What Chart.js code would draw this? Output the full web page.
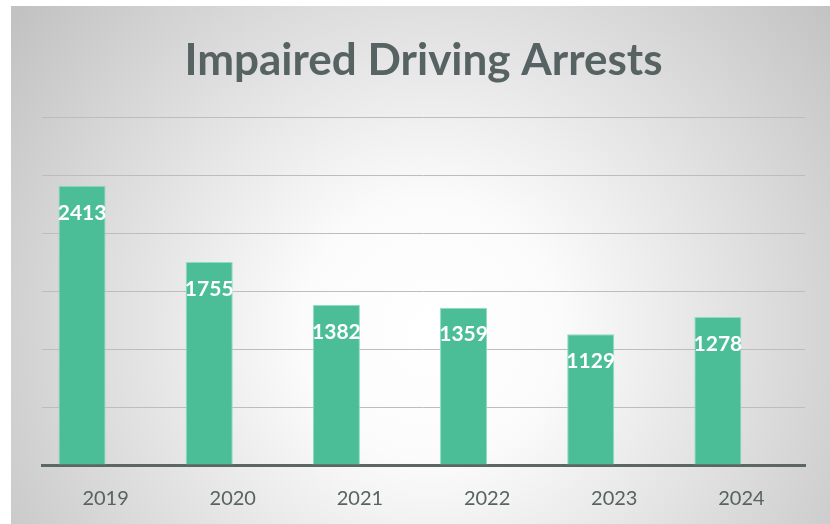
<!DOCTYPE html>
<html>
<head>
<meta charset="utf-8">
<script src="https://cdn.jsdelivr.net/npm/chart.js@4/dist/chart.umd.min.js"></script>
<style>
  html, body { margin: 0; padding: 0; background: #fff; overflow: hidden; }
  canvas { display: block; }
</style>
</head>
<body>
<canvas id="chartCanvas" width="830" height="524"></canvas>
<script>
const years = ['2019', '2020', '2021', '2022', '2023', '2024'];
const arrests = [2413, 1755, 1382, 1359, 1129, 1278];
// second series is empty, it only pushes the bars to the left of each slot
const emptySeries = [null, null, null, null, null, null];
const chartTitle = 'Impaired Driving Arrests';

const barColor = '#4bbe98';
const textGray = '#576362';

// grey radial backdrop with a thin white margin
const backdrop = {
  id: 'backdrop',
  beforeDraw(chart) {
    const ctx = chart.ctx;
    ctx.save();
    ctx.fillStyle = '#ffffff';
    ctx.fillRect(0, 0, chart.width, chart.height);
    const g = ctx.createRadialGradient(430, 330, 0, 430, 330, 520);
    g.addColorStop(0, '#ffffff');
    g.addColorStop(0.25, '#fbfbfb');
    g.addColorStop(1, '#c2c2c2');
    ctx.fillStyle = g;
    ctx.fillRect(11, 6, chart.width - 11, chart.height - 6);
    ctx.restore();
  }
};

// white value labels just inside the top of each bar
const valueLabels = {
  id: 'valueLabels',
  afterDatasetsDraw(chart) {
    const ctx = chart.ctx;
    const meta = chart.getDatasetMeta(0);
    ctx.save();
    ctx.font = 'bold 21px Lato';
    ctx.fillStyle = '#ffffff';
    ctx.textAlign = 'center';
    ctx.textBaseline = 'middle';
    meta.data.forEach((bar, i) => {
      ctx.fillText(String(arrests[i]), bar.x, bar.y + 27);
    });
    ctx.restore();
  }
};

const ctx = document.getElementById('chartCanvas').getContext('2d');
const myChart = new Chart(ctx, {
  type: 'bar',
  data: {
    labels: years,
    datasets: [{
      label: 'Arrests',
      data: arrests,
      backgroundColor: barColor,
      borderColor: '#8fdcc0',
      borderWidth: 1,
      categoryPercentage: 0.74,
      barPercentage: 1.0
    }, {
      label: 'empty',
      data: emptySeries,
      backgroundColor: barColor,
      categoryPercentage: 0.74,
      barPercentage: 1.0
    }]
  },
  options: {
    responsive: false,
    animation: false,
    layout: { padding: { left: 42, right: 25, top: 0, bottom: 14 } },
    plugins: {
      legend: { display: false },
      tooltip: { enabled: false },
      title: {
        display: true,
        text: chartTitle,
        color: textGray,
        font: { family: 'Lato', size: 44, weight: 'bold', lineHeight: 1.2 },
        padding: { top: 34, bottom: 31 }
      }
    },
    scales: {
      x: {
        grid: { display: false, drawTicks: false },
        border: { display: true, color: '#5b6665', width: 3 },
        ticks: {
          color: textGray,
          padding: 22,
          font: { family: 'Lato', size: 20, lineHeight: 1.2 }
        },
        afterFit(scale) { scale.height = 45; }
      },
      y: {
        min: 0,
        max: 3000,
        ticks: { display: false, stepSize: 500 },
        grid: { color: '#bdbdbd', lineWidth: 1, drawTicks: false },
        border: { display: false },
        afterFit(scale) { scale.width = 0; }
      }
    }
  },
  plugins: [backdrop, valueLabels]
});
</script>
</body>
</html>
